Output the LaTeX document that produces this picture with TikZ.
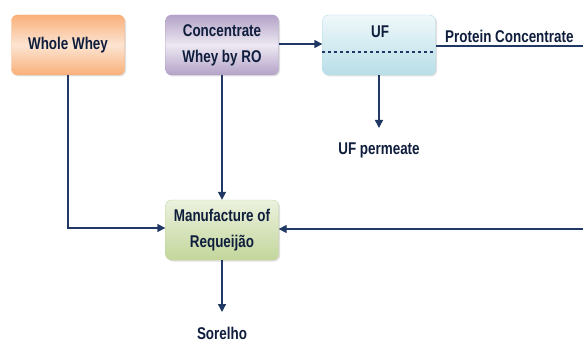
\documentclass[tikz,border=0pt]{standalone}
\usepackage{fontspec}
\setmainfont{Liberation Sans}[FakeStretch=0.79]
\usetikzlibrary{arrows.meta,shadows}
\definecolor{navy}{HTML}{1F3864}
\definecolor{txt}{HTML}{0F1E3C}
\definecolor{orA}{HTML}{F9B07A}
\definecolor{orB}{HTML}{FCE4D2}
\definecolor{puA}{HTML}{B3A2C7}
\definecolor{puB}{HTML}{EDE8F2}
\definecolor{blA}{HTML}{B7DEE8}
\definecolor{blB}{HTML}{F0F8FA}
\definecolor{grA}{HTML}{C3D69B}
\definecolor{grB}{HTML}{EBF1DE}
\begin{document}
\begin{tikzpicture}[x=1pt,y=1pt,
  box/.style={rounded corners=6pt, minimum width=113pt, minimum height=60pt,
    align=center, font=\bfseries\fontsize{17}{26}\selectfont, text=txt,
    drop shadow={shadow xshift=1.5pt,shadow yshift=-1.5pt,opacity=0.25}},
  lbl/.style={font=\bfseries\fontsize{17}{20}\selectfont, text=txt, inner sep=0pt},
  conn/.style={draw=navy, line width=1.4pt},
  arr/.style={conn, -{Triangle[length=8pt,width=8pt]}}]
\useasboundingbox (0,0) rectangle (583,343);
% boxes
\node[box, draw=orA, top color=orA, bottom color=orA, middle color=orB] (ww) at (68,298) {Whole Whey};
\node[box, draw=puA, top color=puA, bottom color=puA, middle color=puB] (cw) at (222,298) {Concentrate\\Whey by RO};
\node[box, draw=blA, top color=blB, bottom color=blA] (uf) at (379,298) {};
\node[lbl, anchor=base] (uft) at (380,305) {UF};
\draw[navy, dashed, line width=1.3pt] (uf.west |- 0,291) -- (uf.east |- 0,291);
\node[box, draw=grA, top color=grB, bottom color=grA] (mr) at (222,113) {Manufacture of\\Requeijão};
% labels
\node[lbl, anchor=base west] (pc) at (445,300) {Protein Concentrate};
\node[lbl, anchor=base] (ufp) at (379,188) {UF permeate};
\node[lbl, anchor=base] (sor) at (222,4) {Sorelho};
\coordinate (rt) at (583,297);
\coordinate (rb) at (583,114);
\coordinate (ufb) at (379,215);
\coordinate (sob) at (222,31);
% connectors
\draw[arr] (cw.east |- 0,299) -- (uf.west |- 0,299);
\draw[conn] (uf.east |- rt) -- (rt);
\draw[arr] (uf.south) -- (ufb);
\draw[arr] (cw.south) -- (mr.north);
\draw[arr] (ww.south) |- (mr.west |- 0,115);
\draw[arr] (rb) -- (mr.east |- rb);
\draw[arr] (mr.south) -- (sob);
\end{tikzpicture}
\end{document}
